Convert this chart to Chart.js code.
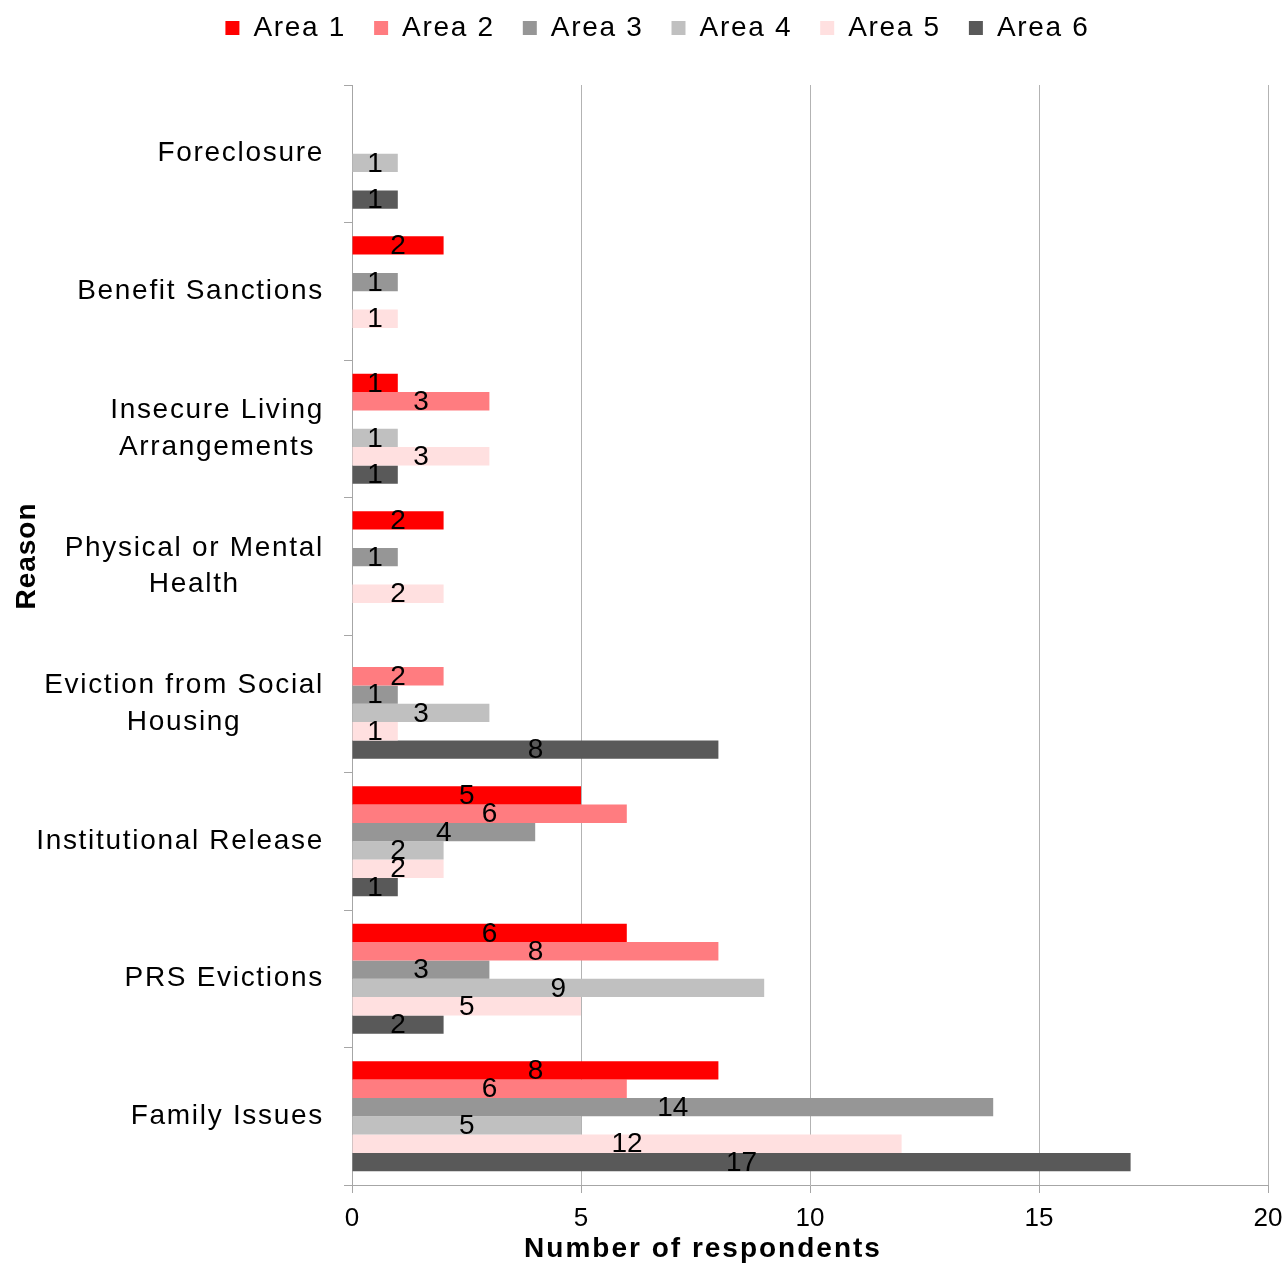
<!DOCTYPE html>
<html>
<head>
<meta charset="utf-8">
<script src="https://cdn.jsdelivr.net/npm/chart.js@4.4.1/dist/chart.umd.min.js"></script>
<style>
  html, body { margin: 0; padding: 0; background: #ffffff; }
  canvas { display: block; }
</style>
</head>
<body>
<canvas id="chart" width="1286" height="1265"></canvas>
<script>
// Reasons for homelessness, respondents per area (empty = none reported)
const reasons = [
  'Foreclosure',
  'Benefit Sanctions',
  ['Insecure Living', 'Arrangements'],
  ['Physical or Mental', 'Health'],
  ['Eviction from Social', 'Housing'],
  'Institutional Release',
  'PRS Evictions',
  'Family Issues'
];
const area1 = [null, 2, 1, 2, null, 5, 6, 8];
const area2 = [null, null, 3, null, 2, 6, 8, 6];
const area3 = [null, 1, null, 1, 1, 4, 3, 14];
const area4 = [1, null, 1, null, 3, 2, 9, 5];
const area5 = [null, 1, 3, 2, 1, 2, 5, 12];
const area6 = [1, null, 1, null, 8, 1, 2, 17];
const seriesNames = ['Area 1', 'Area 2', 'Area 3', 'Area 4', 'Area 5', 'Area 6'];
const seriesColors = ['#ff0000', '#ff7c80', '#969696', '#c0c0c0', '#ffe0e0', '#595959'];
const xTicks = [0, 5, 10, 15, 20];
const xTitle = 'Number of respondents';
const yTitle = 'Reason';

const FONT = "'Liberation Sans', Arial, sans-serif";
const TEXT_SPACING = '1.7px';
const LEGEND_TOP = -14;

const seriesValues = [area1, area2, area3, area4, area5, area6];

// Layout adjustments, centred wrapped category labels, value labels and axis titles
const chartDecor = {
  id: 'chartDecor',
  beforeLayout(chart) {
    chart.ctx.letterSpacing = TEXT_SPACING;
  },
  afterLayout(chart) {
    const lg = chart.legend;
    if (!lg) return;
    const h = lg.bottom - lg.top;
    lg.left = 29;
    lg.right = chart.width;
    lg.width = lg.right - lg.left;
    lg.top = LEGEND_TOP;
    lg.bottom = LEGEND_TOP + h;
  },
  beforeDraw(chart) {
    const ctx = chart.ctx;
    ctx.letterSpacing = TEXT_SPACING;
    const y = chart.scales.y;
    if (!y.getLabelItems) return;
    const items = y.getLabelItems(chart.chartArea);
    items.forEach(item => {
      if (!Array.isArray(item.label) || item._centred) return;
      ctx.save();
      ctx.font = item.font.string;
      const widest = Math.max(...item.label.map(l => ctx.measureText(l).width));
      ctx.restore();
      item.options.textAlign = 'center';
      item.options.translation[0] -= widest / 2;
      item._centred = true;
    });
  },
  afterDatasetsDraw(chart) {
    const ctx = chart.ctx;
    ctx.letterSpacing = '0px';
    ctx.save();
    ctx.font = `28px ${FONT}`;
    ctx.fillStyle = '#000000';
    ctx.textAlign = 'center';
    ctx.textBaseline = 'middle';
    chart.data.datasets.forEach((ds, di) => {
      if (!chart.isDatasetVisible(di)) return;
      const meta = chart.getDatasetMeta(di);
      meta.data.forEach((bar, i) => {
        const v = ds.data[i];
        if (v === null || v === undefined) return;
        const p = bar.getProps(['x', 'y', 'base'], true);
        ctx.fillText(String(v), (p.x + p.base) / 2, p.y + 1);
      });
    });
    ctx.restore();
  },
  afterDraw(chart) {
    const ctx = chart.ctx;
    ctx.save();
    ctx.fillStyle = '#000000';
    ctx.font = `bold 28px ${FONT}`;
    ctx.textAlign = 'center';
    ctx.textBaseline = 'alphabetic';
    ctx.letterSpacing = '2px';
    ctx.fillText(chart.scales.x.options.title.text, 703, 1257);
    ctx.letterSpacing = '1px';
    ctx.translate(35, 556);
    ctx.rotate(-Math.PI / 2);
    ctx.fillText(chart.scales.y.options.title.text, 0, 0);
    ctx.restore();
  }
};

new Chart(document.getElementById('chart'), {
  type: 'bar',
  data: {
    labels: reasons,
    datasets: seriesNames.map((name, i) => ({
      label: name,
      data: seriesValues[i],
      backgroundColor: seriesColors[i],
      borderWidth: 0,
      categoryPercentage: 0.8,
      barPercentage: 1.0
    }))
  },
  options: {
    indexAxis: 'y',
    responsive: false,
    animation: false,
    devicePixelRatio: 1,
    layout: { padding: { top: 19, right: 18, bottom: 0, left: 0 } },
    plugins: {
      legend: {
        position: 'top',
        align: 'center',
        labels: {
          boxWidth: 14,
          boxHeight: 14,
          padding: 28,
          color: '#000000',
          font: { size: 28, family: FONT }
        }
      },
      tooltip: { enabled: false }
    },
    scales: {
      x: {
        type: 'linear',
        position: 'bottom',
        min: 0,
        max: 20,
        afterBuildTicks(scale) {
          scale.ticks = xTicks.map(v => ({ value: v }));
        },
        afterFit(scale) {
          scale.height = 80;
          scale.paddingRight = 0;
        },
        grid: {
          color: '#b3b3b3',
          lineWidth: 1,
          drawTicks: true,
          tickLength: 8,
          tickColor: '#a6a6a6'
        },
        border: { display: true, color: '#a6a6a6', width: 1 },
        ticks: {
          z: 1,
          padding: 10,
          color: '#000000',
          font: { size: 26, family: FONT },
          maxRotation: 0
        },
        title: { display: false, text: xTitle }
      },
      y: {
        type: 'category',
        position: 'left',
        offset: true,
        afterFit(scale) {
          scale.width = 352;
        },
        grid: {
          offset: true,
          drawOnChartArea: false,
          drawTicks: true,
          tickLength: 8,
          color: '#a6a6a6',
          tickColor: '#a6a6a6'
        },
        border: { display: true, color: '#a6a6a6', width: 1 },
        ticks: {
          padding: 20,
          color: '#000000',
          autoSkip: false,
          font: { size: 28, family: FONT, lineHeight: 1.3 }
        },
        title: { display: false, text: yTitle }
      }
    }
  },
  plugins: [chartDecor]
});
</script>
</body>
</html>
